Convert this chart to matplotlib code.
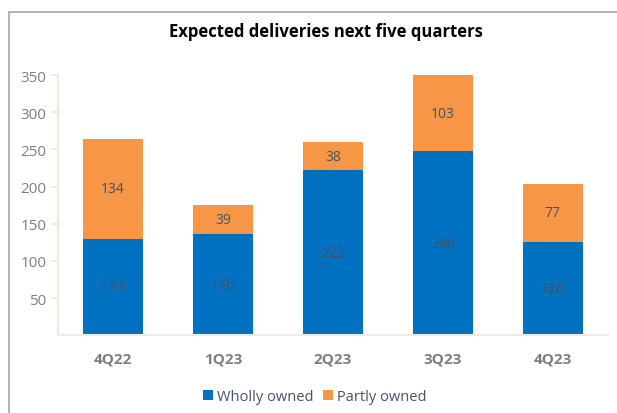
import matplotlib.pyplot as plt
from matplotlib.patches import Rectangle
import numpy as np

# chart data
quarters = ['4Q22', '1Q23', '2Q23', '3Q23', '4Q23']
wholly_owned = [130, 136, 222, 248, 126]
partly_owned = [134, 39, 38, 103, 77]

blue = '#0070c0'
orange = '#f79646'
label_color = '#44546a'
grey = '#7f7f7f'

plt.rcParams['font.family'] = ['Open Sans', 'DejaVu Sans']

fig = plt.figure(figsize=(6.17, 4.14), dpi=100)
ax = fig.add_axes([0.094, 0.188, 0.891, 0.628])

x = np.arange(len(quarters))
b1 = ax.bar(x, wholly_owned, width=0.55, color=blue, label='Wholly owned')
b2 = ax.bar(x, partly_owned, width=0.55, bottom=wholly_owned, color=orange,
            label='Partly owned')
ax.bar_label(b1, label_type='center', color=label_color, fontsize=10)
ax.bar_label(b2, label_type='center', color=label_color, fontsize=10)

ax.set_xlim(-0.5, len(quarters) - 0.5)
ax.set_ylim(0, 350)
ax.set_yticks(range(50, 351, 50))
ax.set_xticks(x)
ax.set_xticklabels(quarters, fontsize=11, fontweight='bold', color=grey)
ax.tick_params(axis='y', labelsize=11, labelcolor=grey, color='#eeece1',
               length=5, width=1.5)
ax.tick_params(axis='x', length=0, pad=12)

for side in ['top', 'right']:
    ax.spines[side].set_visible(False)
for side in ['left', 'bottom']:
    ax.spines[side].set_color('#eeece1')
    ax.spines[side].set_linewidth(1.5)

fig.text(0.528, 0.922, 'Expected deliveries next five quarters', ha='center',
         va='center', fontsize=12, fontweight='bold', color='black')

leg = fig.legend(handles=[b1, b2], loc='center', bbox_to_anchor=(0.51, 0.04),
                 ncol=2, frameon=False, fontsize=10.5, handlelength=0.7,
                 handleheight=0.7, handletextpad=0.3, columnspacing=0.6)
for t in leg.get_texts():
    t.set_color(label_color)

# outer chart border
fig.patches.append(Rectangle((9 / 617, -0.1), 1.2, 1 - 13 / 414 + 0.1,
                             transform=fig.transFigure, fill=False,
                             edgecolor='#a6a6a6', linewidth=1.2))

fig.savefig('out.png', dpi=100)
